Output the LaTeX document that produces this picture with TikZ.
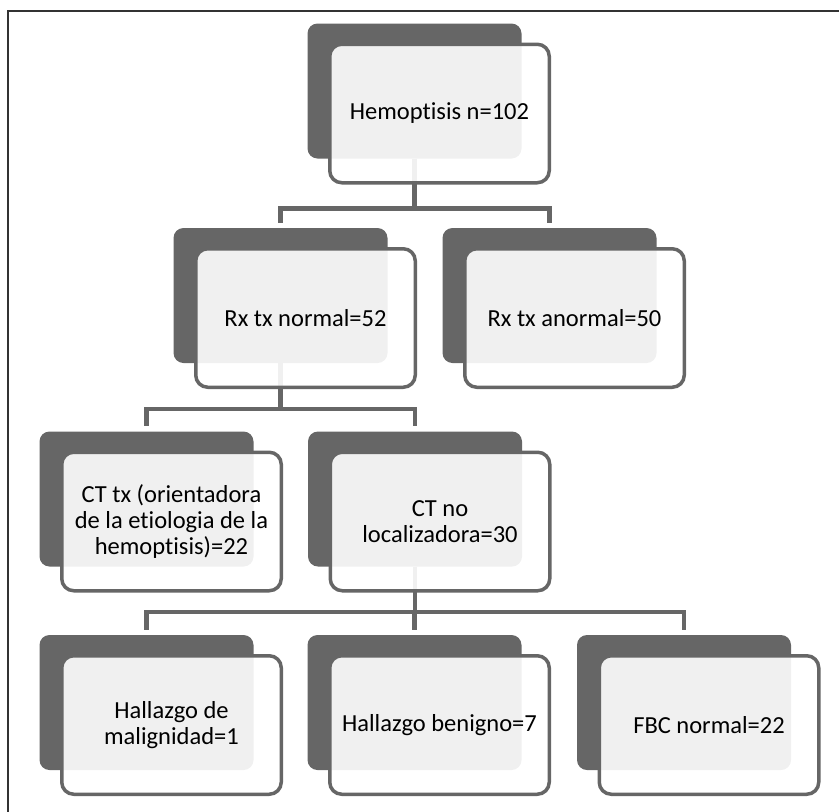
\documentclass[tikz,border=0pt]{standalone}
\usepackage{fontspec}
\setmainfont{Carlito}[Ligatures={NoCommon}]
\definecolor{boxgray}{HTML}{666666}
\definecolor{framegray}{HTML}{333333}

\begin{document}
\begin{tikzpicture}[x=1pt,y=-1pt,
                back/.style={fill=boxgray,rounded corners=10pt,minimum width=214pt,minimum height=135pt,inner sep=0pt},
                front/.style={draw=boxgray,line width=3.5pt,fill=white,fill opacity=0.9,text opacity=1,rounded corners=12pt,minimum width=219.5pt,minimum height=138.5pt,inner sep=0pt,align=center,font=\fontsize{24.5}{26}\selectfont},
                link/.style={draw=boxgray,line width=4.5pt,shorten >=5pt}]
                \useasboundingbox (0,0) rectangle (839,812);
                \draw[framegray,line width=2pt] (8,812) -- (8,11) -- (839,11);
                \node[back] (hemo-b) at (414.5,91) {};
                \node[back] (rxn-b) at (280.5,295.5) {};
                \node[back] (rxa-b) at (549.5,295.5) {};
                \node[back] (ctx-b) at (146.5,499) {};
                \node[back] (ctno-b) at (415,499) {};
                \node[back] (mal-b) at (146.5,702.5) {};
                \node[back] (ben-b) at (414.5,702.5) {};
                \node[back] (fbc-b) at (684,702.5) {};
                \draw[link] (hemo-b.south) -- ++(0,50) -| (rxn-b.north);
                \draw[link] (hemo-b.south) -- ++(0,50) -| (rxa-b.north);
                \draw[link] (rxn-b.south) -- ++(0,46) -| (ctx-b.north);
                \draw[link] (rxn-b.south) -- ++(0,46) -| (ctno-b.north);
                \draw[link] (ctno-b.south) -- ++(0,45.5) -| (mal-b.north);
                \draw[link] (ctno-b.south) -- ++(0,45.5) -| (ben-b.north);
                \draw[link] (ctno-b.south) -- ++(0,45.5) -| (fbc-b.north);
                \node[front] (hemo) at ([shift={(25,22.5)}]hemo-b) {Hemoptisis n=102};
                \node[front] (rxn) at ([shift={(25,22.5)}]rxn-b) {Rx tx normal=52};
                \node[front] (rxa) at ([shift={(25,22.5)}]rxa-b) {Rx tx anormal=50};
                \node[front] (ctx) at ([shift={(25,22.5)}]ctx-b) {CT tx (orientadora\\de la etiologia de la\\hemoptisis)=22};
                \node[front] (ctno) at ([shift={(25,22.5)}]ctno-b) {CT no\\localizadora=30};
                \node[front] (mal) at ([shift={(25,22.5)}]mal-b) {Hallazgo de\\malignidad=1};
                \node[front] (ben) at ([shift={(25,22.5)}]ben-b) {Hallazgo benigno=7};
                \node[front] (fbc) at ([shift={(25,22.5)}]fbc-b) {FBC normal=22};
            \end{tikzpicture}
\end{document}
